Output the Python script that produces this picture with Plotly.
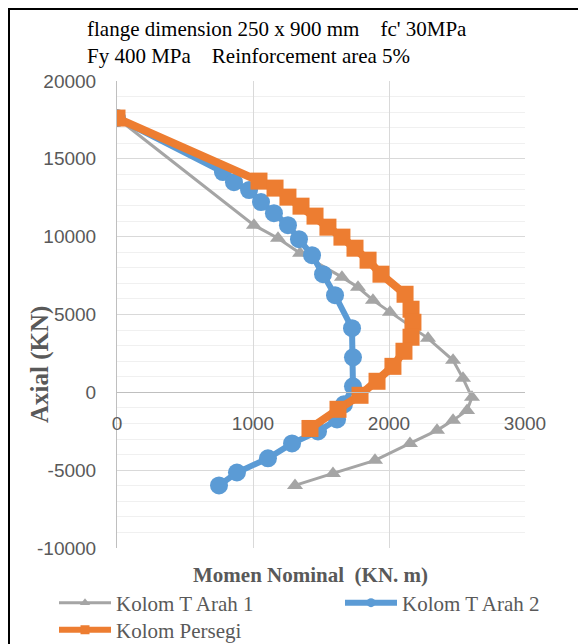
import plotly.graph_objects as go

# Momen nominal (KN.m) and axial (KN)
t1_moment = [0, 1007, 1184, 1346, 1654, 1772, 1882, 2007, 2287, 2471, 2544,
             2610, 2574, 2471, 2353, 2154, 1897, 1588, 1309]
t1_axial = [17620, 10740, 9900, 8940, 7400, 6750, 5920, 5150, 3470, 2060, 900,
            -320, -1160, -1800, -2440, -3280, -4370, -5210, -5980]

t2_moment = [0, 779, 860, 971, 1059, 1154, 1257, 1338, 1434, 1515, 1603,
             1728, 1735, 1735, 1669, 1618, 1478, 1287, 1110, 882, 750]
t2_axial = [17620, 14150, 13500, 12990, 12220, 11510, 10740, 9840, 8810, 7590, 6240,
            4120, 2250, 390, -770, -1740, -2510, -3280, -4240, -5150, -5980]

sq_moment = [0, 1044, 1162, 1257, 1353, 1456, 1551, 1654, 1750, 1846, 1941,
             2118, 2162, 2176, 2162, 2110, 2029, 1912, 1787, 1625, 1419]
sq_axial = [17620, 13570, 13120, 12540, 11960, 11320, 10610, 9970, 9260, 8490, 7590,
            6300, 5340, 4500, 3540, 2640, 1670, 710, -190, -1090, -2320]

x_ticks = [0, 1000, 2000, 3000]
x_labels = ["0", "1000", "2000", "3000"]
y_ticks = [-10000, -5000, 0, 5000, 10000, 15000, 20000]
y_labels = ["-10000", "-5000", "0", "5000", "10000", "15000", "20000"]

GRAY = "#A5A5A5"
BLUE = "#5B9BD5"
ORANGE = "#ED7D31"
SERIF = "Liberation Serif, Times New Roman, serif"
SANS = "Liberation Sans, Arial, sans-serif"

# the page body adds an 8px offset, so lay out in screen pixels minus that
OFF = 8
W, H = 586, 644
L, R, T, B = 117 - OFF, 586 - (525 - OFF), 81 - OFF, 644 - (548 - OFF)
PW, PH = W - L - R, H - T - B


def px(x):
    return (x - OFF - L) / PW


def py(y):
    return (H - B - (y - OFF)) / PH


series = [
    ("Kolom T Arah 1", t1_moment, t1_axial, GRAY, 3, "triangle-up", 14),
    ("Kolom T Arah 2", t2_moment, t2_axial, BLUE, 6, "circle", 18),
    ("Kolom Persegi", sq_moment, sq_axial, ORANGE, 8, "square", 17),
]
legend_ids = ["legend", "legend2", "legend3"]

fig = go.Figure()
for name, xs, ys, color, lw, sym, ms in series:
    fig.add_trace(go.Scatter(
        x=xs, y=ys, mode="lines+markers", name=name, showlegend=False,
        line=dict(color=color, width=lw),
        marker=dict(symbol=sym, size=ms, color=color),
    ))
# legend-only copies with small markers, like the Excel legend
for (name, xs, ys, color, lw, sym, ms), lg in zip(series, legend_ids):
    fig.add_trace(go.Scatter(
        x=[None], y=[None], mode="lines+markers", name=name, legend=lg,
        line=dict(color=color, width=min(lw, 6)),
        marker=dict(symbol=sym, size=9, color=color),
    ))

legend_style = dict(
    orientation="v", xanchor="left", yanchor="middle", tracegroupgap=0,
    font=dict(family=SERIF, size=21, color="#595959"),
    itemwidth=52, bgcolor="rgba(0,0,0,0)",
)

fig.update_layout(
    width=W, height=H,
    margin=dict(l=L, r=R, t=T, b=B, autoexpand=False),
    paper_bgcolor="white", plot_bgcolor="white",
    font=dict(family=SANS, color="#595959"),
    title=dict(
        text="flange dimension 250 x 900 mm \u00a0\u00a0\u00a0fc' 30MPa<br>"
             "Fy 400 MPa \u00a0\u00a0\u00a0Reinforcement area 5%",
        xref="container", yref="container",
        x=(87 - OFF) / W, y=1 - (36 - OFF) / H, xanchor="left", yanchor="top",
        font=dict(family=SERIF, size=21, color="black"),
    ),
    xaxis=dict(
        range=[0, 3000], tickvals=x_ticks, ticktext=x_labels,
        anchor="free", position=1 / 3,
        showgrid=True, gridcolor="#d9d9d9", gridwidth=1,
        showline=True, linecolor="#bfbfbf", linewidth=1,
        zeroline=False, ticks="", ticklabelstandoff=14,
        tickfont=dict(family=SANS, size=19, color="#595959"),
    ),
    yaxis=dict(
        range=[-10000, 20000], tickvals=y_ticks, ticktext=y_labels,
        showgrid=True, gridcolor="#d9d9d9", gridwidth=1,
        minor=dict(dtick=1000, showgrid=True, gridcolor="#f0f0f0", gridwidth=1),
        showline=True, linecolor="#bfbfbf", linewidth=1,
        zeroline=False, ticks="", ticklabelstandoff=16,
        tickfont=dict(family=SANS, size=19, color="#595959"),
    ),
    legend=dict(x=px(54), y=py(603), **legend_style),
    legend2=dict(x=px(340), y=py(603), **legend_style),
    legend3=dict(x=px(54), y=py(630), **legend_style),
    showlegend=True,
)

fig.add_annotation(
    text="<b>Momen Nominal \u00a0(KN. m)</b>",
    xref="paper", yref="paper", x=px(310), y=py(575), xanchor="center", yanchor="middle",
    showarrow=False, font=dict(family=SERIF, size=21, color="#595959"),
)
fig.add_annotation(
    text="<b>Axial (KN)</b>", textangle=-90,
    xref="paper", yref="paper", x=px(40), y=py(365), xanchor="center", yanchor="middle",
    showarrow=False, font=dict(family=SERIF, size=25, color="#595959"),
)

# chart frame (top and left edges), as close to the corner as the page allows
fig.add_shape(type="line", xref="paper", yref="paper",
              x0=px(OFF), x1=px(W + OFF), y0=py(OFF + 1), y1=py(OFF + 1),
              line=dict(color="black", width=2))
fig.add_shape(type="line", xref="paper", yref="paper",
              x0=px(OFF + 1), x1=px(OFF + 1), y0=py(OFF), y1=py(H + OFF),
              line=dict(color="black", width=2))

fig.write_html("out.html")
